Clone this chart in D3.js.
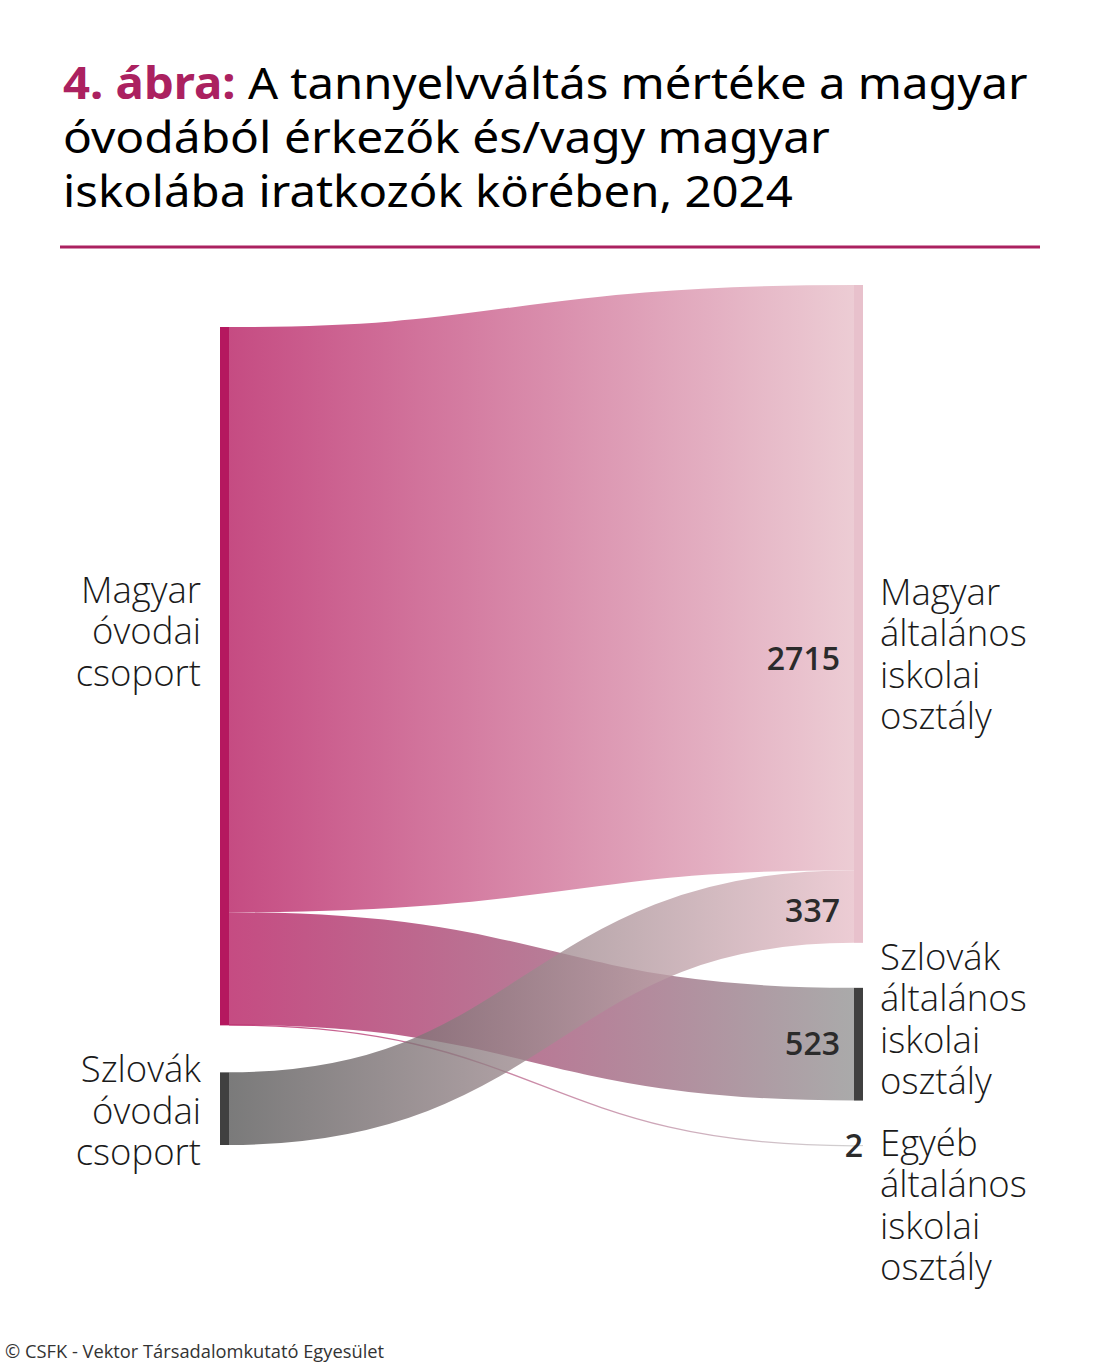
<!DOCTYPE html>
<html lang="hu">
<head>
<meta charset="utf-8">
<script src="https://cdn.jsdelivr.net/npm/d3@7"></script>
<style>
  html, body { margin: 0; padding: 0; background: #fff; }
  svg { display: block; }
</style>
</head>
<body>
<svg id="chart" width="1100" height="1366"></svg>
<script>
// ---------------- DATA ----------------
const titleLead = "4. ábra:";
const titleLines = [
  " A tannyelvváltás mértéke a magyar",
  "óvodából érkezők és/vagy magyar",
  "iskolába iratkozók körében, 2024"
];
const footerText = "© CSFK - Vektor Társadalomkutató Egyesület";

const nodeNames = [
  "Magyar óvodai csoport",
  "Szlovák óvodai csoport",
  "Magyar általános iskolai osztály",
  "Szlovák általános iskolai osztály",
  "Egyéb általános iskolai osztály"
];
const nodeColumns = [0, 0, 1, 1, 1];

const linkSources = [0, 0, 0, 1];
const linkTargets = [2, 3, 4, 2];
const linkValues  = [2715, 523, 2, 337];

// ---------------- STYLE / LAYOUT ----------------
const nodeFill  = ["#b5185f", "#404040", "#e8c1cc", "#404040", "#9a9a9a"];
const flowColor = ["#b5195f", "#555555", "#e7bec8", "#929292", "#c4c4c4"];
const linkOpacity = 0.78;

const colX   = [220, 854];
const nodeW  = 9;
const colTop = [327, 285];
const colGap = [47, 45];
const maxColHeight = 771;   // pixel height of the tallest column's values
// label vertical shift of middle baseline relative to node centre
const labelShift = [-45, 2, 40, -25, 59];
const labelLineH = 41.5;
const valueShift = [81, 0, 0, 4];

const svg = d3.select("#chart");

// ---------------- TITLE ----------------
const titleColor = "#ab2160";
const titleX = 63;
const titleBase = [99, 153, 207];
const titleWidths = [965, 767, 730];
titleLines.forEach((line, i) => {
  const t = svg.append("text")
    .attr("x", titleX).attr("y", titleBase[i])
    .attr("font-family", "'Noto Sans', 'Open Sans', sans-serif")
    .attr("font-size", 44)
    .attr("fill", "#000");
  if (i === 0) {
    t.append("tspan").attr("fill", titleColor).attr("font-weight", 700).text(titleLead);
  }
  t.append("tspan").text(line);
  const w = t.node().getComputedTextLength();
  const s = titleWidths[i] / w;
  t.attr("transform", `translate(${titleX},0) scale(${s},1) translate(${-titleX},0)`);
});

svg.append("line")
  .attr("x1", 60).attr("x2", 1040)
  .attr("y1", 247).attr("y2", 247)
  .attr("stroke", titleColor).attr("stroke-width", 3);

// ---------------- SANKEY LAYOUT ----------------
const nodes = nodeNames.map((name, i) => ({
  i, name, col: nodeColumns[i], out: [], inn: []
}));
const links = linkValues.map((v, i) => ({
  i, value: v, source: nodes[linkSources[i]], target: nodes[linkTargets[i]]
}));
links.forEach(l => { l.source.out.push(l); l.target.inn.push(l); });
nodes.forEach(n => {
  n.value = Math.max(d3.sum(n.out, l => l.value), d3.sum(n.inn, l => l.value));
});

const colTotals = [0, 1].map(c => d3.sum(nodes.filter(n => n.col === c), n => n.value));
const vScale = d3.scaleLinear().domain([0, d3.max(colTotals)]).range([0, maxColHeight]);

[0, 1].forEach(c => {
  let y = colTop[c];
  nodes.filter(n => n.col === c).forEach(n => {
    n.x0 = colX[c]; n.x1 = colX[c] + nodeW;
    n.y0 = y; n.y1 = y + vScale(n.value);
    y = n.y1 + colGap[c];
  });
});
nodes.forEach(n => {
  n.out.sort((a, b) => a.target.i - b.target.i);
  n.inn.sort((a, b) => a.source.i - b.source.i);
  let y = n.y0;
  n.out.forEach(l => { l.width = vScale(l.value); l.y0 = y + l.width / 2; y += l.width; });
  y = n.y0;
  n.inn.forEach(l => { l.y1 = y + vScale(l.value) / 2; y += vScale(l.value); });
});

// ---------------- LINKS ----------------
const defs = svg.append("defs");
links.forEach(l => {
  const g = defs.append("linearGradient")
    .attr("id", "grad" + l.i)
    .attr("gradientUnits", "userSpaceOnUse")
    .attr("x1", l.source.x1).attr("x2", l.target.x0)
    .attr("y1", 0).attr("y2", 0);
  g.append("stop").attr("offset", "0%").attr("stop-color", flowColor[l.source.i]);
  g.append("stop").attr("offset", "100%").attr("stop-color", flowColor[l.target.i]);
});

const linkGen = d3.linkHorizontal()
  .source(l => [l.source.x1, l.y0])
  .target(l => [l.target.x0, l.y1]);

svg.append("g")
  .attr("fill", "none")
  .selectAll("path")
  .data(links)
  .join("path")
  .attr("d", linkGen)
  .attr("stroke", l => `url(#grad${l.i})`)
  .attr("stroke-opacity", linkOpacity)
  .attr("stroke-width", l => Math.max(1.3, l.width));

// ---------------- NODES ----------------
svg.append("g")
  .selectAll("rect")
  .data(nodes)
  .join("rect")
  .attr("x", n => n.x0)
  .attr("y", n => n.y0)
  .attr("width", n => n.x1 - n.x0)
  .attr("height", n => Math.max(0.5, n.y1 - n.y0))
  .attr("fill", n => nodeFill[n.i]);

// ---------------- NODE LABELS ----------------
const labelFont = "'Open Sans', 'Noto Sans', sans-serif";
nodes.forEach(n => {
  const words = n.name.split(" ");
  const cy = (n.y0 + n.y1) / 2 + 13 + labelShift[n.i];
  const first = cy - (words.length - 1) / 2 * labelLineH;
  const left = n.col === 0;
  const t = svg.append("text")
    .attr("font-family", labelFont)
    .attr("font-weight", 300)
    .attr("font-size", 36.5)
    .attr("fill", "#1a1a1a")
    .attr("text-anchor", left ? "end" : "start");
  words.forEach((w, k) => {
    t.append("tspan")
      .attr("x", left ? n.x0 - 19 : n.x1 + 17)
      .attr("y", first + k * labelLineH)
      .text(w);
  });
});

// ---------------- VALUE LABELS ----------------
svg.append("g")
  .selectAll("text")
  .data(links)
  .join("text")
  .attr("font-family", labelFont)
  .attr("font-weight", 600)
  .attr("font-size", 32)
  .attr("fill", "#2b2b2b")
  .attr("text-anchor", "end")
  .attr("x", l => l.width < 5 ? l.target.x1 : l.target.x0 - 14)
  .attr("y", l => l.y1 + 11 + valueShift[l.i])
  .text(l => d3.format("d")(l.value));

// ---------------- FOOTER ----------------
svg.append("text")
  .attr("x", 5).attr("y", 1358)
  .attr("font-family", labelFont)
  .attr("font-size", 18.3)
  .attr("fill", "#333")
  .text(footerText);
</script>
</body>
</html>
